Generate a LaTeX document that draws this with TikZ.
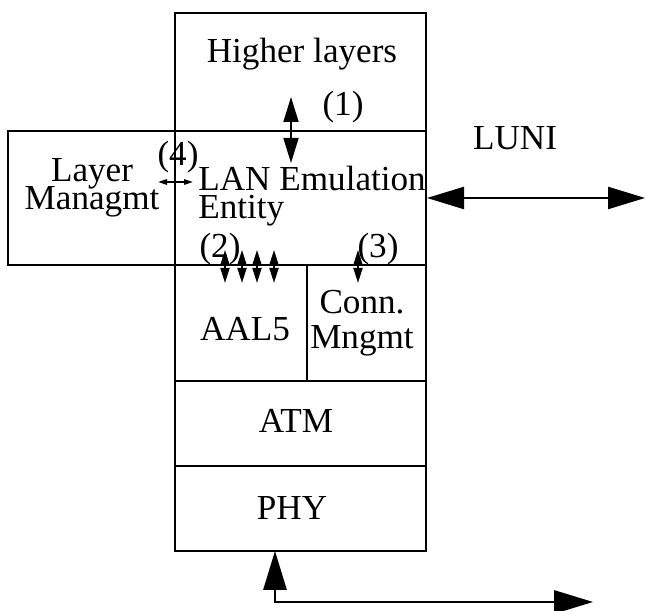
\documentclass[tikz,border=0pt]{standalone}
\usepackage{fontspec}
\setmainfont{Liberation Serif}
\usetikzlibrary{arrows.meta, positioning}
\newcommand\tightlines{\lineskiplimit=-100pt\relax}

\begin{document}
\begin{tikzpicture}[
  font=\fontsize{20}{16}\selectfont,
  lay/.style={draw, line width=1.2pt, inner sep=0pt, minimum width=#1},
  lbl/.style={inner sep=0pt, align=center,
    font=\fontsize{20}{16}\selectfont\tightlines},
  io/.style={line width=1pt, {Triangle[length=#1, width=0.6*#1]}-{Triangle[length=#1, width=0.6*#1]}},
  ]
  \useasboundingbox (0,0) rectangle (12.92,12.22);

  % --- protocol stack boxes ---
  \node[lay=5.02cm, minimum height=2.36cm] (higher) at (6.01,10.78) {};
  \node[lay=5.02cm, minimum height=2.68cm] (lane)   at (6.01,8.26) {};
  \node[lay=3.34cm, minimum height=2.68cm] (laymgt) at (1.83,8.26) {};
  \node[lay=2.64cm, minimum height=2.32cm] (aal)    at (4.82,5.76) {};
  \node[lay=2.38cm, minimum height=2.32cm] (connm)  at (7.33,5.76) {};
  \node[lay=5.02cm, minimum height=1.70cm] (atm)    at (6.01,3.75) {};
  \node[lay=5.02cm, minimum height=1.70cm] (phy)    at (6.01,2.05) {};

  % --- box texts ---
  \node[lbl, anchor=base] (thigher) at (6.04,10.96) {Higher layers};
  \node[lbl, anchor=west, align=left] (tlane) at (3.96,8.30) {LAN Emulation\\Entity};
  \node[lbl] (tlaymgt) at (1.84,8.46) {Layer\\Managmt};
  \node[lbl, anchor=base] (taal) at (4.90,5.40) {AAL5};
  \node[lbl, font=\fontsize{20}{20}\selectfont\tightlines]
    (tconnm) at (7.24,5.76) {Conn.\\Mngmt};
  \node[lbl, anchor=base] (tatm) at (5.92,3.56) {ATM};
  \node[lbl, anchor=base] (tphy) at (5.84,1.82) {PHY};
  \node[lbl, anchor=base] (tluni) at (10.30,9.22) {LUNI};

  % --- interface numbers ---
  \node[lbl] (n1) at (6.86,10.08) {(1)};
  \node[lbl] (n2) at (4.40,7.24) {(2)};
  \node[lbl] (n3) at (7.56,7.24) {(3)};
  \node[lbl] (n4) at (3.56,9.08) {(4)};

  % --- arrow end points ---
  \coordinate (a1top) at (5.82,10.28);
  \coordinate (a1bot) at (5.82,8.96);
  \coordinate (a4l) at (3.16,8.58);
  \coordinate (a4r) at (3.86,8.58);
  \coordinate (a3top) at (7.16,7.22);
  \coordinate (a3bot) at (7.16,6.56);
  \coordinate (luniend) at (12.90,8.26);
  \coordinate (phyin) at (5.50,1.20);
  \coordinate (phyout) at (11.86,0.18);

  % --- interface arrows ---
  \draw[io=0.5cm] (a1top) -- (a1bot);
  \draw[io=0.18cm] (a4l) -- (a4r);
  \foreach \x [count=\i] in {4.50, 4.84, 5.14, 5.48} {
    \coordinate (a2top\i) at (\x,7.22);
    \coordinate (a2bot\i) at (\x,6.56);
    \draw[io=0.3cm] (a2top\i) -- (a2bot\i);
  }
  \draw[io=0.3cm] (a3top) -- (a3bot);

  % LUNI and physical link
  \draw[io=0.74cm] (lane.east) -- (luniend);
  \draw[io=0.78cm] (phyin) |- (phyout);

\end{tikzpicture}
\end{document}
